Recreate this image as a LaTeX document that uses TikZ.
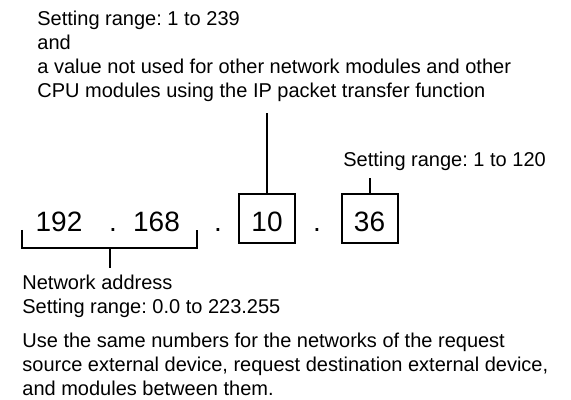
\documentclass[tikz,border=0pt]{standalone}
\usepackage{fontspec}
\setmainfont{Liberation Sans}
\frenchspacing

\begin{document}
\begin{tikzpicture}[x=0.5pt, y=-0.5pt,
    label/.style={inner sep=0pt, anchor=base west, align=left,
      font=\fontsize{10}{12}\selectfont},
    octet/.style={inner sep=0pt, anchor=base, font=\fontsize{14}{16}\selectfont},
    octetbox/.style={draw, line width=1pt, minimum width=28pt, minimum height=24.5pt,
      inner sep=0pt},
    bar/.style={line width=1pt, line cap=butt}]
  \useasboundingbox (0,0) rectangle (571,400);

  % the four octets of the address
  \node[octet] (oct1) at (59,232) {192};
  \node[octet] (dot1) at (113,232) {.};
  \node[octet] (oct2) at (156.5,232) {168};
  \node[octet] (dot2) at (218,232) {.};
  \node[octetbox] (box3) at (267,218.5) {};
  \node[octet] (oct3) at (267,232) {10};
  \node[octet] (dot3) at (317,232) {.};
  \node[octetbox] (box4) at (369.5,218.5) {};
  \node[octet] (oct4) at (369.5,232) {36};

  % third octet: station number range (base = last line)
  \node[label] (range3) at (37,98) {Setting range: 1 to 239\\and\\a value not used for other network modules and other\\CPU modules using the IP packet transfer function};
  \coordinate (range3end) at (267,113);
  \draw[bar] (box3.north) -- (range3end);

  % fourth octet
  \node[label] (range4) at (343,167) {Setting range: 1 to 120};
  \coordinate (range4end) at (369.5,178);
  \draw[bar] (box4.north) -- (range4end);

  % first two octets form the network address
  \coordinate (brleft) at (22,230);
  \coordinate (brright) at (197,230);
  \coordinate (brmid) at (110,248);
  \draw[bar] (brleft) |- (brright |- brmid) -- (brright);
  \node[label] (netaddr) at (22,313) {Network address\\Setting range: 0.0 to 223.255};
  \coordinate (netend) at (110,268);
  \draw[bar] (brmid) -- (netend);

  \node[label] (note) at (22,395) {Use the same numbers for the networks of the request\\source external device, request destination external device,\\and modules between them.};
\end{tikzpicture}
\end{document}
